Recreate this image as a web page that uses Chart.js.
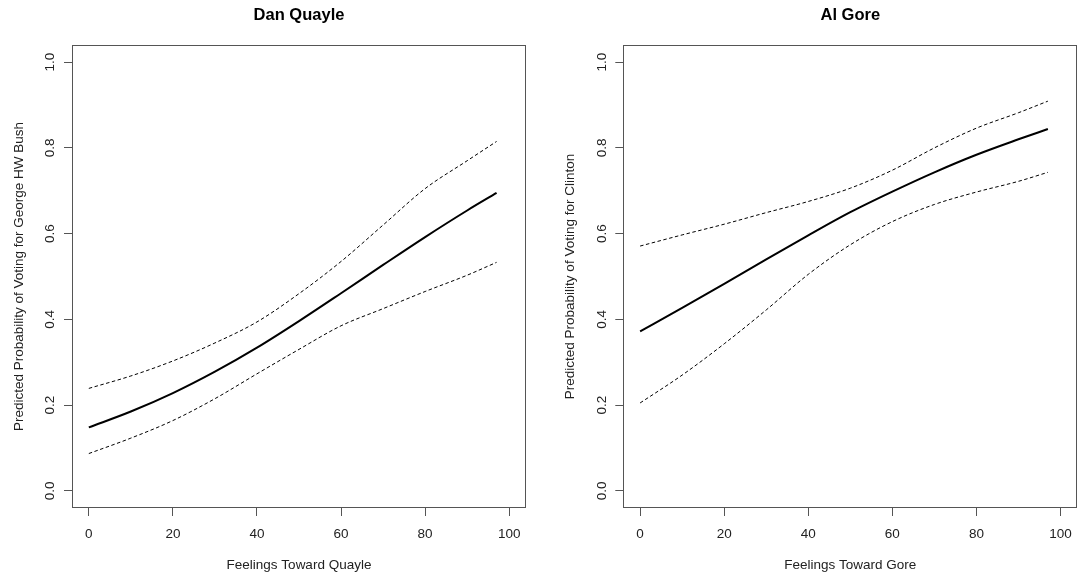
<!DOCTYPE html>
<html>
<head>
<meta charset="utf-8">
<script src="https://cdn.jsdelivr.net/npm/chart.js@4.4.0/dist/chart.umd.min.js"></script>
<style>
  html, body { margin: 0; padding: 0; background: #fff; }
  #wrap { position: relative; width: 1078px; height: 575px; overflow: hidden; }
  .panel { position: absolute; top: 0; width: 539px; height: 575px; }
</style>
</head>
<body>
<div id="wrap">
  <div class="panel" style="left:0"><canvas id="quayle" width="539" height="575"></canvas></div>
  <div class="panel" style="left:539px"><canvas id="gore" width="539" height="575"></canvas></div>
</div>
<script>
// Feelings thermometer values where the curves were read
const feelings = [0, 10, 20, 30, 40, 50, 60, 70, 80, 90, 97];

// Dan Quayle panel: predicted probability of voting for Bush, with bounds
const quayleFit   = [0.148, 0.185, 0.228, 0.278, 0.334, 0.396, 0.461, 0.527, 0.592, 0.654, 0.695];
const quayleUpper = [0.239, 0.268, 0.303, 0.345, 0.394, 0.460, 0.535, 0.620, 0.705, 0.770, 0.815];
const quayleLower = [0.087, 0.123, 0.164, 0.215, 0.273, 0.330, 0.385, 0.425, 0.465, 0.503, 0.533];

// Al Gore panel: predicted probability of voting for Clinton, with bounds
const goreFit   = [0.372, 0.427, 0.483, 0.540, 0.596, 0.650, 0.698, 0.743, 0.784, 0.820, 0.844];
const goreUpper = [0.571, 0.597, 0.622, 0.649, 0.675, 0.706, 0.748, 0.800, 0.846, 0.882, 0.909];
const goreLower = [0.205, 0.270, 0.343, 0.422, 0.505, 0.574, 0.628, 0.668, 0.697, 0.722, 0.743];

// Axis tick labels
const xTicks = [0, 20, 40, 60, 80, 100];
const yTicks = [0, 0.2, 0.4, 0.6, 0.8, 1.0];

Chart.defaults.font.family = "'Liberation Sans', Arial, sans-serif";
Chart.defaults.color = '#222';

const axisColor = '#555';

// R style box around the plot region
const boxPlugin = {
    id: 'rbox',
    afterDraw(chart) {
        const a = chart.chartArea;
        const ctx = chart.ctx;
        ctx.save();
        ctx.strokeStyle = axisColor;
        ctx.lineWidth = 1;
        const l = Math.round(a.left) + 0.5, t = Math.round(a.top) + 0.5;
        const r = Math.round(a.right) - 0.5, b = Math.round(a.bottom) - 0.5;
        ctx.strokeRect(l, t, r - l, b - t);
        ctx.restore();
    }
};

function toPoints(ys) {
    return feelings.map((x, i) => ({ x: x, y: ys[i] }));
}

function lineSet(ys, dashed) {
    return {
        data: toPoints(ys),
        borderColor: '#000',
        borderWidth: dashed ? 1 : 2,
        borderDash: dashed ? [3.5, 2.5] : [],
        pointRadius: 0,
        fill: false,
        cubicInterpolationMode: 'monotone'
    };
}

function create_panel(elementId, title, xTitle, yTitle, fit, upper, lower, padLeft, padRight) {
    return new Chart(document.getElementById(elementId).getContext('2d'), {
        type: 'line',
        data: {
            datasets: [lineSet(upper, true), lineSet(lower, true), lineSet(fit, false)]
        },
        plugins: [boxPlugin],
        options: {
            responsive: false,
            animation: false,
            devicePixelRatio: 1,
            layout: { padding: { left: padLeft, right: padRight, top: 0, bottom: 0 } },
            plugins: {
                legend: { display: false },
                tooltip: { enabled: false },
                title: {
                    display: true,
                    text: title,
                    fullSize: false,
                    color: '#000',
                    font: { size: 16.5, weight: 'bold' },
                    padding: { top: 6, bottom: 19.2 }
                }
            },
            scales: {
                x: {
                    type: 'linear',
                    min: -4,
                    max: 104,
                    afterBuildTicks: s => { s.ticks = xTicks.map(v => ({ value: v })); },
                    afterFit: s => { s.height = 67; s.paddingLeft = 0; s.paddingRight = 0; },
                    grid: { drawOnChartArea: false, drawTicks: true, tickLength: 8, color: axisColor },
                    border: { display: false },
                    ticks: { font: { size: 13.5 }, padding: 10, maxRotation: 0 },
                    title: { display: true, text: xTitle, font: { size: 13.5 }, padding: { top: 0, bottom: 2 } }
                },
                y: {
                    type: 'linear',
                    min: -0.04,
                    max: 1.04,
                    afterBuildTicks: s => { s.ticks = yTicks.map(v => ({ value: v })); },
                    afterFit: s => { s.width = 72; s.paddingTop = 0; s.paddingBottom = 0; },
                    grid: { drawOnChartArea: false, drawTicks: true, tickLength: 8, color: axisColor },
                    border: { display: false },
                    ticks: {
                        font: { size: 13.5 },
                        padding: 4,
                        minRotation: 90,
                        maxRotation: 90,
                        crossAlign: 'center',
                        callback: v => v.toFixed(1)
                    },
                    title: { display: true, text: yTitle, font: { size: 13.5 }, padding: { top: 11, bottom: 0 } }
                }
            }
        }
    });
}

create_panel('quayle', 'Dan Quayle', 'Feelings Toward Quayle',
    'Predicted Probability of Voting for George HW Bush',
    quayleFit, quayleUpper, quayleLower, 0, 13);

create_panel('gore', 'Al Gore', 'Feelings Toward Gore',
    'Predicted Probability of Voting for Clinton',
    goreFit, goreUpper, goreLower, 12.3, 0.7);
</script>
</body>
</html>
